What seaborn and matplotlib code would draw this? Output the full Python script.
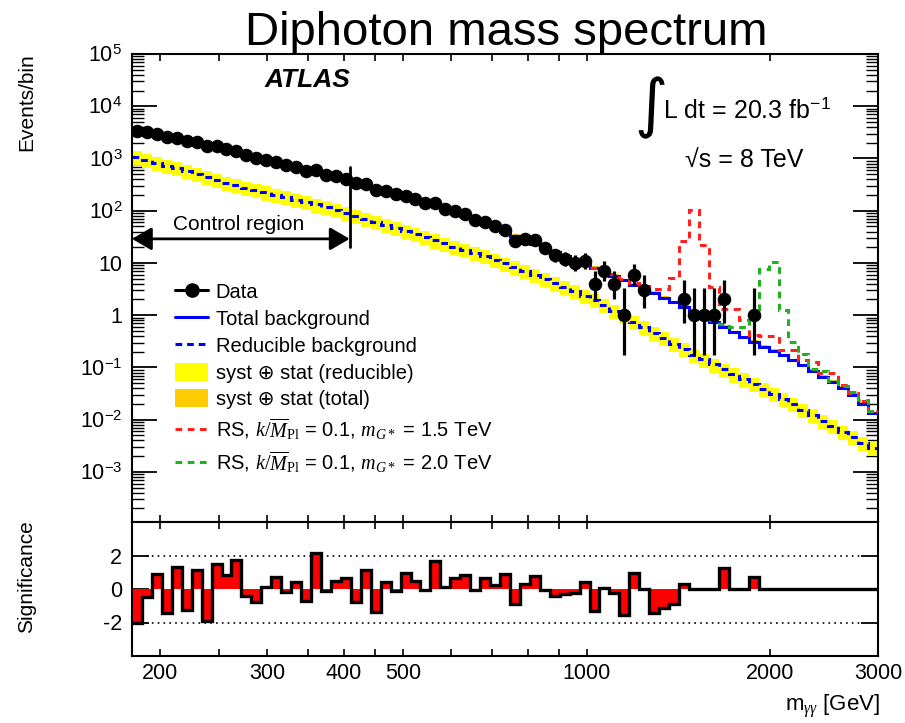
import math
import numpy as np
import pandas as pd
import matplotlib
matplotlib.use("Agg")
import matplotlib.pyplot as plt
import matplotlib.transforms as mtransforms
from matplotlib.lines import Line2D
from matplotlib.patches import Patch
from matplotlib.ticker import FixedLocator, FuncFormatter, LogLocator, NullFormatter
import seaborn as sns

# ---------------------------------------------------------------- binning
mass_lo, mass_hi, n_bins = 180.0, 3000.0, 75
edges = np.geomspace(mass_lo, mass_hi, n_bins + 1)
centers = np.sqrt(edges[:-1] * edges[1:])
control_max = 409.0

# ---------------------------------------------------------------- data
data_counts = [3426, 3210, 3000, 2586, 2493, 2155, 2046, 1739, 1721, 1547,
               1398, 1175, 1022, 936, 853, 745, 679, 586, 593, 488,
               452, 411, 336, 325, 246, 240, 205, 195, 165, 139,
               140, 107, 97, 86, 66, 62, 50, 43, 26, 29,
               27, 19, 14, 12, 10, 11, 4, 7, 4, 1,
               6, 3, 0, 0, 0, 2, 1, 1, 1, 2,
               0, 0, 1, 0, 0, 0, 0, 0, 0, 0,
               0, 0, 0, 0, 0]

total_bkg = [3548, 3236, 2951, 2661, 2427, 2213, 1995, 1820, 1660, 1514,
             1334, 1189, 1047, 933, 832, 750, 668, 603, 543, 490,
             442, 398, 351, 305.5, 269, 234, 206.5, 182, 158.5, 139.6,
             121.6, 105.9, 91.2, 78.5, 66.8, 56.9, 47.9, 38.9, 32.7, 27.5,
             23.2, 19.5, 16.2, 13.5, 11.35, 9.55, 8.04, 6.76, 5.62, 4.65,
             3.85, 3.20, 2.66, 2.17, 1.76, 1.44, 1.16, 0.927, 0.745, 0.597,
             0.468, 0.376, 0.308, 0.251, 0.207, 0.170, 0.137, 0.110, 0.0859, 0.0668,
             0.0525, 0.0403, 0.0295, 0.0204, 0.0132]

reducible_bkg = [1072, 944, 832, 733, 646, 569, 501, 442, 389, 343,
                 308, 277, 249, 224, 201, 181, 163, 146.6, 131.8, 116.1,
                 102.3, 90.2, 79.4, 69.5, 60.8, 53.2, 46.6, 40.7, 35.6, 31.0,
                 27.0, 23.6, 20.5, 17.9, 15.5, 13.4, 11.6, 9.77, 8.22, 6.92,
                 5.82, 4.90, 4.09, 3.42, 2.86, 2.38, 1.98, 1.55, 1.22, 0.957,
                 0.752, 0.590, 0.463, 0.364, 0.286, 0.224, 0.176, 0.142, 0.114, 0.0914,
                 0.0735, 0.0590, 0.0474, 0.0381, 0.0306, 0.0246, 0.0198, 0.0155, 0.0122, 0.00957,
                 0.00752, 0.00590, 0.00463, 0.00364, 0.00286]

significance = [-2.05, -0.46, 0.9, -1.46, 1.34, -1.24, 1.14, -1.9, 1.5, 0.84,
                1.76, -0.4, -0.76, 0.1, 0.74, -0.2, 0.44, -0.7, 2.14, -0.1,
                0.46, 0.66, -0.8, 1.14, -1.4, 0.4, -0.1, 0.96, 0.5, -0.04,
                1.66, 0.1, 0.64, 0.84, -0.04, 0.66, 0.24, 0.9, -0.9, 0.3,
                0.8, -0.04, -0.4, -0.3, -0.24, 0.44, -1.3, 0.05, -0.25, -1.54,
                0.94, 0.0, -1.46, -1.16, -0.88, 0.3, 0.0, 0.0, 0.0, 1.25,
                0.0, 0.0, 0.72, 0.0, 0.0, 0.0, 0.0, 0.0, 0.0, 0.0,
                0.0, 0.0, 0.0, 0.0, 0.0]

# background + RS graviton, shown from the first bin listed onwards
rs1500_first_bin = 46
rs1500 = [8.13, 6.92, 6.03, 5.01, 4.17, 3.63, 3.24, 3.24, 5.25, 26.3,
          104.7, 21.9, 3.47, 1.34, 1.34, 0.794, 0.417, 0.407, 0.398, 0.214,
          0.214, 0.138, 0.126, 0.0776, 0.0776, 0.046, 0.033, 0.023, 0.0148]
rs2000_first_bin = 58
rs2000 = [0.794, 0.676, 0.596, 0.596, 0.933, 7.76, 10.5, 1.24, 0.302, 0.178,
          0.095, 0.0851, 0.0562, 0.044, 0.034, 0.024, 0.0145]

reducible_rel_unc = 0.30
total_rel_unc = 0.08

x_major = [200, 300, 400, 500, 1000, 2000, 3000]
x_minor = [250, 350, 450, 600, 700, 800, 900]


def poisson_errors(n):
    """68% central (Garwood) interval; Gaussian for large counts."""
    if n == 0:
        return 0.0, 0.0
    if n > 30:
        s = math.sqrt(n)
        return s, s

    def cdf(k, mu):
        term = math.exp(-mu)
        tot = term
        for i in range(1, k + 1):
            term *= mu / i
            tot += term
        return tot

    alpha = 0.158655
    lo, hi = float(n), n + 10 * math.sqrt(n) + 10
    for _ in range(80):
        mid = 0.5 * (lo + hi)
        if cdf(n, mid) > alpha:
            lo = mid
        else:
            hi = mid
    up = 0.5 * (lo + hi)
    lo, hi = 0.0, float(n)
    for _ in range(80):
        mid = 0.5 * (lo + hi)
        if 1 - cdf(n - 1, mid) < alpha:
            lo = mid
        else:
            hi = mid
    down = 0.5 * (lo + hi)
    return n - down, up - n


# ---------------------------------------------------------------- style
sns.set_theme(style="ticks")
plt.rcParams.update({
    "font.family": ["Liberation Sans", "DejaVu Sans"],
    "mathtext.fontset": "custom",
    "mathtext.rm": "Liberation Serif",
    "mathtext.it": "Liberation Serif:italic",
    "mathtext.sf": "Liberation Sans",
    "mathtext.bf": "Liberation Sans:bold",
    "axes.unicode_minus": False,
    "axes.linewidth": 1.5,
    "axes.edgecolor": "black",
    "text.color": "black",
    "axes.labelcolor": "black",
    "xtick.color": "black",
    "ytick.color": "black",
})

W, H = 905, 723
fig = plt.figure(figsize=(W / 100, H / 100), dpi=100)
ax = fig.add_axes([132 / W, (H - 522) / H, 746 / W, 468 / H])
axr = fig.add_axes([132 / W, (H - 656) / H, 746 / W, 134 / H], sharex=ax)

tot = np.array(total_bkg)
red = np.array(reducible_bkg)

# uncertainty bands
ax.stairs(red * (1 + reducible_rel_unc), edges, baseline=red * (1 - reducible_rel_unc),
          fill=True, color="#ffff00", lw=0, zorder=1)
ax.stairs(tot * (1 + total_rel_unc), edges, baseline=tot * (1 - total_rel_unc),
          fill=True, color="#ffcc00", lw=0, zorder=1)

# backgrounds
ax.stairs(red, edges, baseline=None, color="#0000ff", lw=2.2,
          ls=(0, (2.2, 1.6)), zorder=2)
ax.stairs(tot, edges, baseline=None, color="#0000ff", lw=2.2, zorder=3)

# signal hypotheses
ax.stairs(rs1500, edges[rs1500_first_bin:], baseline=None, color="#ff2020",
          lw=2.2, ls=(0, (2.2, 1.8)), zorder=4)
ax.stairs(rs2000, edges[rs2000_first_bin:], baseline=None, color="#20b020",
          lw=2.2, ls=(0, (2.2, 1.8)), zorder=4)

# data
df = pd.DataFrame({"mass": centers, "events": data_counts})
df = df[df["events"] > 0].reset_index(drop=True)
errs = np.array([poisson_errors(int(n)) for n in df["events"]]).T
ax.errorbar(df["mass"], df["events"], yerr=errs, fmt="none", ecolor="black",
            elinewidth=2.3, capsize=0, zorder=5)
sns.scatterplot(data=df, x="mass", y="events", ax=ax, color="black",
                edgecolor="black", s=95, linewidth=0, zorder=6, legend=False)

ax.set_xscale("log")
ax.set_yscale("log")
ax.set_xlim(mass_lo, mass_hi)
ax.set_ylim(1.1e-4, 1.0e5)
ax.set_xlabel("")
ax.set_ylabel("")


def log_label(v, pos):
    e = int(round(np.log10(v)))
    if e == 0:
        return "1"
    if e == 1:
        return "10"
    return r"10$^{\mathsf{%d}}$" % e


ax.yaxis.set_major_locator(FixedLocator([10.0 ** e for e in range(-3, 6)]))
ax.yaxis.set_major_formatter(FuncFormatter(log_label))
ax.yaxis.set_minor_locator(LogLocator(base=10, subs=np.arange(2, 10), numticks=30))
ax.yaxis.set_minor_formatter(NullFormatter())
ax.tick_params(axis="y", which="major", direction="in", length=18, width=1.3,
               left=True, right=True, labelsize=15.5, pad=7)
ax.tick_params(axis="y", which="minor", direction="in", length=8.5, width=1.0,
               left=True, right=True)

for a in (ax, axr):
    a.xaxis.set_major_locator(FixedLocator(x_major))
    a.xaxis.set_minor_locator(FixedLocator(x_minor))
    a.xaxis.set_minor_formatter(NullFormatter())
    a.tick_params(axis="x", which="both", direction="in", length=5, width=1.2,
                  top=True, bottom=True)
    for s in a.spines.values():
        s.set_linewidth(1.5)
ax.tick_params(axis="x", which="both", labelbottom=False)

# texts inside the spectrum panel
ax.text(0.178, 0.929, "ATLAS", transform=ax.transAxes, fontsize=19,
        fontweight="bold", fontstyle="italic", va="baseline", ha="left")
ax.text(0.696, 0.886, "\u222b", transform=ax.transAxes, fontsize=46,
        va="center", ha="center", family=["DejaVu Sans"])
ax.text(0.712, 0.863, r"L dt = 20.3 fb$^{\mathsf{-1}}$", transform=ax.transAxes,
        fontsize=18, va="baseline", ha="left")
ax.text(0.741, 0.7585, "\u221as = 8 TeV", transform=ax.transAxes, fontsize=18,
        va="baseline", ha="left")

# control region marker
trans = mtransforms.blended_transform_factory(ax.transData, ax.transAxes)
ax.text(0.055, 0.624, "Control region", transform=ax.transAxes, fontsize=15,
        va="baseline", ha="left")
ax.annotate("", xy=(mass_lo, 0.605), xytext=(control_max, 0.605),
            xycoords=trans, textcoords=trans,
            arrowprops=dict(arrowstyle="<|-|>,head_length=0.6,head_width=0.35",
                            color="black", lw=2, mutation_scale=20,
                            shrinkA=0, shrinkB=0), zorder=7)
ax.plot([control_max, control_max], [0.588, 0.759], transform=trans,
        color="black", lw=2, zorder=7)

# legend
handles = [
    Line2D([], [], color="black", lw=2.2, marker="o", markersize=9.5),
    Line2D([], [], color="#0000ff", lw=2.2),
    Line2D([], [], color="#0000ff", lw=2.2, ls=(0, (2.2, 1.6))),
    Patch(facecolor="#ffff00", edgecolor="none"),
    Patch(facecolor="#ffcc00", edgecolor="none"),
    Line2D([], [], color="#ff2020", lw=2.2, ls=(0, (2.2, 1.8))),
    Line2D([], [], color="#20b020", lw=2.2, ls=(0, (2.2, 1.8))),
]
labels = [
    "Data",
    "Total background",
    "Reducible background",
    "syst \u2295 stat (reducible)",
    "syst \u2295 stat (total)",
    r"RS, $k/\overline{M}_{\mathrm{Pl}}$ = 0.1, $m_{G*}$ = 1.5 TeV",
    r"RS, $k/\overline{M}_{\mathrm{Pl}}$ = 0.1, $m_{G*}$ = 2.0 TeV",
]
leg = ax.legend(handles, labels, loc="upper left", bbox_to_anchor=(0.058, 0.512),
                frameon=False, fontsize=14.5, handlelength=1.65, handleheight=1.0,
                handletextpad=0.35, labelspacing=0.34, borderpad=0, borderaxespad=0)

# significance panel
sig = np.array(significance)
axr.stairs(sig, edges, baseline=0, fill=True, color="#ff0000", lw=0, zorder=1)
axr.stairs(sig, edges, baseline=None, color="black", lw=2.4, zorder=2)
axr.plot([190, 2800], [2, 2], color="black", lw=1.2, ls=(0, (1, 2.5)), zorder=0)
axr.plot([190, 2800], [-2, -2], color="black", lw=1.2, ls=(0, (1, 2.5)), zorder=0)
axr.set_ylim(-4, 4)
axr.set_xlim(mass_lo, mass_hi)
axr.yaxis.set_major_locator(FixedLocator([-2, 0, 2]))
axr.yaxis.set_major_formatter(FuncFormatter(lambda v, p: "%d" % v))
axr.tick_params(axis="y", which="major", direction="in", length=12, width=1.3,
                left=True, right=True, labelsize=15.5, pad=7)
axr.tick_params(axis="x", which="major", labelsize=15.5, pad=5)
axr.set_xticklabels([str(v) for v in x_major])
axr.set_xlabel("")
axr.set_ylabel("")

# titles and axis titles
fig.text(506 / W, 1 - 45 / H, "Diphoton mass spectrum", fontsize=34,
         ha="center", va="baseline")
fig.text(27 / W, 1 - 53 / H, "Events/bin", rotation=90, fontsize=15,
         ha="center", va="top")
fig.text(27 / W, 1 - 520 / H, "Significance", rotation=90, fontsize=15,
         ha="center", va="top")
fig.text(880 / W, 1 - 711 / H, r"m$_{\gamma\gamma}$ [GeV]", fontsize=16,
         ha="right", va="baseline")

fig.savefig("out.png", dpi=100)
